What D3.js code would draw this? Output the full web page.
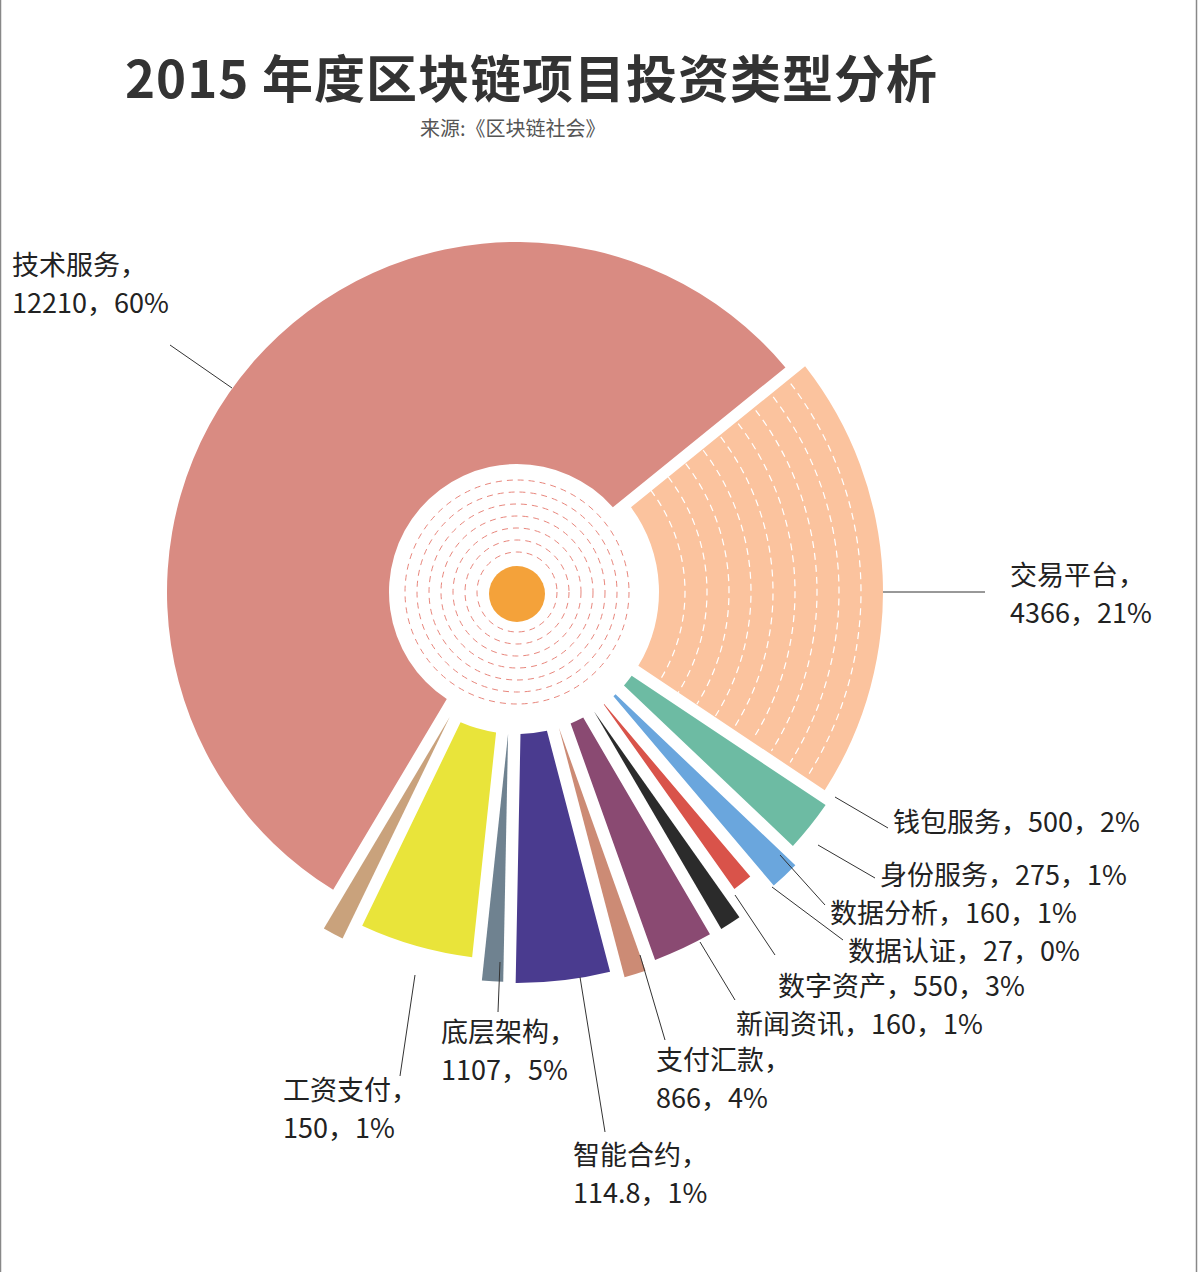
<!DOCTYPE html>
<html><head><meta charset="utf-8">
<script src="https://cdn.jsdelivr.net/npm/d3@7"></script>
<style>body{margin:0;background:#fff}svg{display:block;font-family:"Noto Sans CJK SC","Noto Sans",sans-serif}</style>
</head><body><svg id="c" width="1202" height="1272"></svg>
<script>
// data
const categories = ['交易平台','钱包服务','身份服务','数据分析','数据认证','数字资产','新闻资讯','支付汇款','智能合约','底层架构','工资支付','技术服务'];
const values = [4366, 500, 275, 160, 27, 550, 160, 866, 114.8, 1107, 150, 12210];
const percents = ['21%','2%','1%','1%','0%','3%','1%','4%','1%','5%','1%','60%'];
const colors = ['#fbc39e','#6dbba3','#6aa6dd','#d9534a','#2b2b2b','#8a4a72','#cc8b75','#4a3b8f','#6f8290','#e9e43a','#c9a27c','#d98b82'];
const outerR = [366, 375, 390, 368, 394, 393, 400, 391, 390, 368, 388, 350];

// label layout
const labelLayout = [
  {x:1010,y:585,two:true, l:[[883,592],[985,592]]},
  {x:893,y:832,two:false,l:[[835,797],[888,828]]},
  {x:880,y:885,two:false,l:[[818,845],[875,878]]},
  {x:830,y:923,two:false,l:[[780,855],[825,905]]},
  {x:848,y:961,two:false,l:[[772,887],[843,940]]},
  {x:778,y:996,two:false,l:[[735,895],[775,955]]},
  {x:736,y:1034,two:false,l:[[700,942],[735,1000]]},
  {x:656,y:1070,two:true, l:[[640,955],[665,1040]]},
  {x:573,y:1165,two:true, l:[[580,977],[605,1132]]},
  {x:441,y:1042,two:true, l:[[500,962],[498,1012]]},
  {x:283,y:1100,two:true, l:[[415,975],[400,1076]]},
  {x:12,y:275,two:true,  l:[[170,345],[232,388]]}
];

const svg = d3.select('#c');
svg.append('rect').attr('x',0.5).attr('y',-2).attr('width',1196).attr('height',1280)
  .attr('fill','none').attr('stroke','#888').attr('stroke-width',1.5);

svg.append('text').attr('x',125).attr('y',98).attr('font-size',51).attr('font-weight',700)
  .attr('letter-spacing',1).attr('fill','#333').text('2015 年度区块链项目投资类型分析');
svg.append('text').attr('x',420).attr('y',136).attr('font-size',20).attr('fill','#555')
  .text('来源:《区块链社会》');

const cx = 517, cy = 592;
const g = svg.append('g').attr('transform', `translate(${cx},${cy})`);
const start = 51 * Math.PI / 180;
// tiny slices get a minimum width so they stay visible
const pie = d3.pie().sort(null).value(d => Math.max(d.v, 200)).startAngle(start).endAngle(start + 2 * Math.PI).padAngle(0.03);
const data = categories.map((c, i) => ({c, v: values[i], i}));
const arcs = pie(data);

g.selectAll('path.slice').data(arcs).join('path').attr('class','slice')
  .attr('fill', d => colors[d.data.i])
  .attr('d', d => d3.arc().innerRadius(d.data.i === 11 ? 128 : 142).outerRadius(outerR[d.data.i])(d));

// dashed arcs across trading slice
const tr = arcs[0];
for (let r = 168; r < 366; r += 22) {
  const p = d3.path();
  const a0 = tr.startAngle + 0.03 - Math.PI / 2, a1 = tr.endAngle - 0.03 - Math.PI / 2;
  p.arc(0, 0, r, a0, a1);
  g.append('path').attr('fill','none').attr('stroke','#fff').attr('stroke-width',1.2)
    .attr('stroke-dasharray','7,5').attr('d', p.toString());
}
// dashed rings in center
for (let r = 40; r <= 122; r += 12) {
  g.append('circle').attr('r', r).attr('fill','none').attr('stroke','#e8867c')
    .attr('stroke-width',1).attr('stroke-dasharray','6,5');
}
g.append('circle').attr('r', 28).attr('cy', 2).attr('fill','#f4a23a');

// labels
labelLayout.forEach((L, i) => {
  svg.append('line').attr('x1',L.l[0][0]).attr('y1',L.l[0][1]).attr('x2',L.l[1][0]).attr('y2',L.l[1][1])
    .attr('stroke','#333').attr('stroke-width',1);
  const t = svg.append('text').attr('x',L.x).attr('y',L.y).attr('font-size',27).attr('fill','#222');
  if (L.two) {
    t.append('tspan').attr('x',L.x).text(categories[i] + '，');
    t.append('tspan').attr('x',L.x).attr('dy',38).text(values[i] + '，' + percents[i]);
  } else {
    t.text(categories[i] + '，' + values[i] + '，' + percents[i]);
  }
});
</script></body></html>
